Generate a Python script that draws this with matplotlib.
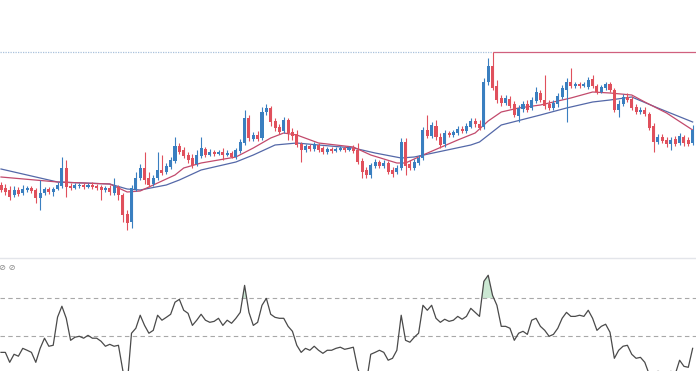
"""
Candlestick chart with two moving averages and an RSI pane below.
"""

import numpy as np
import matplotlib.pyplot as plt

COLORS = {
    'up': '#3a7fc0',
    'down': '#e0505c',
    'ma_fast': '#c24a6c',
    'ma_slow': '#5468a8',
    'high_dotted': '#a9c1dc',
    'high_line': '#d0607e',
    'rsi': '#4a4a4a',
    'level': '#a8a8a8',
    'ob_fill': '#bfe3c8',
    'sep': '#e3e5ea',
}

# ---------------------------------------------------------------------------
# Data
# ---------------------------------------------------------------------------
opens = [115, 112, 110, 105, 110, 107, 110, 112, 110, 102,
         107, 111, 108, 111, 114, 132, 114, 112, 114, 115,
         113, 115, 114, 113, 110, 112, 107, 113, 105, 86,
         78, 111, 122, 132, 122, 116, 122, 130, 128, 133,
         139, 154, 150, 145, 142, 136, 144, 151, 145, 148,
         146, 148, 145, 147, 143, 149, 157, 182, 161, 165,
         162, 188, 192, 179, 173, 169, 180, 168, 166, 156,
         150, 154, 151, 155, 152, 148, 151, 149, 150, 152,
         150, 152, 150, 139, 130, 125, 134, 138, 134, 137,
         130, 128, 132, 158, 136, 132, 137, 142, 170, 164,
         174, 163, 156, 167, 165, 167, 171, 169, 173, 179,
         176, 173, 218, 234, 214, 202, 197, 201, 196, 184,
         191, 196, 192, 199, 207, 200, 196, 192, 196, 203,
         210, 218, 214, 216, 214, 213, 221, 214, 208, 212,
         216, 210, 190, 196, 203, 201, 193, 188, 190, 186,
         174, 158, 163, 160, 156, 161, 157, 163, 160, 157]

closes = [110, 108, 103, 110, 106, 111, 112, 109, 102, 107,
          111, 108, 111, 115, 132, 113, 112, 115, 115, 113,
          115, 113, 112, 110, 112, 108, 114, 105, 85, 77,
          112, 122, 132, 120, 115, 122, 130, 127, 134, 140,
          154, 148, 144, 140, 135, 145, 152, 145, 148, 146,
          148, 145, 147, 143, 150, 158, 182, 162, 165, 161,
          188, 192, 178, 172, 168, 180, 167, 164, 155, 150,
          154, 151, 156, 150, 148, 151, 149, 151, 152, 150,
          152, 149, 138, 128, 125, 135, 138, 134, 137, 128,
          126, 132, 158, 134, 132, 138, 142, 170, 164, 175,
          163, 155, 167, 165, 168, 171, 169, 174, 179, 176,
          172, 218, 234, 212, 200, 197, 202, 194, 185, 192,
          196, 190, 200, 208, 200, 194, 192, 197, 204, 212,
          218, 214, 216, 214, 216, 220, 214, 208, 213, 216,
          210, 190, 196, 203, 200, 192, 188, 190, 186, 172,
          158, 163, 159, 156, 160, 156, 164, 157, 156, 170]

highs = [118, 116, 114, 114, 113, 115, 114, 114, 112, 120,
         113, 113, 113, 118, 143, 140, 117, 117, 117, 117,
         117, 118, 116, 115, 114, 115, 122, 115, 107, 90,
         115, 128, 136, 148, 128, 125, 148, 145, 137, 143,
         163, 157, 153, 148, 146, 150, 163, 153, 151, 150,
         150, 152, 150, 149, 152, 161, 190, 185, 168, 169,
         193, 196, 194, 182, 176, 183, 182, 172, 170, 158,
         156, 156, 158, 157, 154, 153, 153, 153, 154, 154,
         154, 155, 157, 142, 133, 137, 141, 140, 140, 139,
         133, 135, 162, 162, 140, 141, 145, 173, 185, 178,
         180, 167, 170, 169, 170, 174, 174, 177, 182, 182,
         180, 222, 242, 248, 220, 205, 205, 204, 199, 195,
         199, 200, 203, 213, 210, 225, 200, 200, 207, 215,
         222, 232, 218, 218, 218, 223, 225, 216, 215, 218,
         218, 212, 200, 206, 207, 204, 196, 193, 193, 188,
         177, 166, 166, 163, 163, 164, 167, 165, 163, 175]

lows = [108, 105, 100, 103, 104, 105, 108, 107, 97, 90,
        105, 106, 104, 110, 112, 103, 110, 111, 112, 111,
        112, 111, 110, 100, 108, 105, 105, 100, 78, 70,
        72, 109, 120, 116, 113, 114, 120, 125, 126, 131,
        137, 146, 142, 137, 132, 134, 142, 143, 144, 144,
        145, 140, 144, 142, 141, 147, 155, 159, 159, 159,
        160, 185, 174, 169, 166, 167, 160, 160, 153, 138,
        148, 149, 149, 148, 146, 146, 147, 148, 149, 148,
        149, 147, 136, 122, 122, 122, 132, 132, 132, 126,
        123, 126, 130, 125, 130, 130, 135, 140, 162, 162,
        160, 152, 153, 163, 163, 165, 167, 167, 172, 173,
        170, 171, 215, 210, 197, 194, 195, 192, 183, 178,
        188, 188, 190, 197, 198, 191, 190, 190, 193, 201,
        178, 212, 212, 212, 213, 211, 212, 206, 207, 210,
        208, 188, 183, 194, 198, 190, 186, 186, 184, 170,
        148, 156, 157, 153, 150, 154, 155, 154, 154, 155]

# moving averages, sampled at candle indices
ma_fast_idx = [0, 13, 25, 29, 32, 35, 40, 42, 46, 54, 58, 62, 65, 68, 73, 81,
               85, 91, 93, 97, 105, 109, 112, 115, 119, 124, 131, 136, 140,
               145, 148, 153, 159]
ma_fast = [123, 118, 116, 108, 109, 115, 125, 132, 137, 143, 152, 162, 167,
           165, 157, 153, 145, 137, 137, 145, 160, 167, 179, 188, 192, 195,
           202, 208, 207, 205, 198, 187, 170]

ma_slow_idx = [0, 13, 25, 29, 32, 38, 41, 46, 54, 58, 63, 68, 73, 81, 86, 92,
               95, 108, 110, 115, 124, 130, 136, 140, 145, 151, 159]
ma_slow = [131, 118, 116, 111, 110, 115, 120, 130, 138, 145, 155, 157, 155,
           152, 147, 142, 143, 155, 158, 175, 185, 192, 198, 200, 203, 192, 178]

rsi = [41.6, 41.6, 36.4, 40.6, 39.6, 43.7, 42.7, 41.6, 36.4, 43.7,
       49.0, 44.8, 45.3, 60.0, 65.7, 59.4, 47.9, 49.5, 50.0, 49.0,
       50.5, 49.0, 49.0, 47.4, 44.8, 45.8, 44.8, 45.3, 32.2, 24.4,
       51.6, 54.2, 61.0, 55.7, 51.6, 53.1, 61.0, 58.4, 59.9, 61.5,
       67.8, 69.3, 63.6, 62.0, 55.7, 58.4, 61.5, 58.4, 57.3, 57.8,
       59.4, 55.7, 58.4, 56.8, 59.4, 62.5, 76.6, 62.5, 55.7, 57.3,
       66.2, 69.8, 61.5, 59.9, 59.4, 59.4, 55.2, 52.6, 45.3, 41.6,
       43.7, 42.7, 44.8, 42.7, 41.1, 42.7, 42.7, 43.7, 44.3, 43.2,
       43.7, 44.3, 33.3, 27.0, 26.0, 40.6, 41.6, 42.7, 41.6, 37.5,
       38.5, 42.7, 61.0, 47.9, 46.9, 49.5, 51.6, 66.2, 63.6, 66.2,
       59.4, 57.3, 58.9, 57.8, 58.4, 60.4, 58.9, 60.4, 64.6, 62.5,
       60.4, 78.7, 81.9, 71.4, 66.2, 55.2, 55.2, 54.2, 47.9, 51.6,
       52.6, 51.0, 58.4, 59.4, 55.2, 53.1, 50.0, 51.0, 54.2, 59.4,
       62.5, 60.4, 60.4, 61.0, 60.4, 63.6, 59.4, 53.1, 55.2, 56.3,
       52.1, 38.5, 42.7, 44.8, 45.3, 40.6, 38.5, 39.0, 36.4, 30.2,
       24.9, 31.7, 31.2, 29.6, 31.7, 30.2, 37.5, 34.3, 33.8, 43.7]

rsi_levels = [70, 50]


def draw_candles(ax, o, h, l, c, width=0.7):
    o, h, l, c = map(np.asarray, (o, h, l, c))
    idx = np.arange(len(o))
    up = c >= o
    cols = np.where(up, COLORS['up'], COLORS['down'])
    ax.vlines(idx, l, h, colors=cols, linewidth=0.8, zorder=3)
    body = np.maximum(np.abs(c - o), 0.8)
    ax.bar(idx, body, bottom=np.minimum(o, c), width=width, color=cols,
           linewidth=0, zorder=4)


fig = plt.figure(figsize=(6.96, 3.71), dpi=100)
W, H = 696, 371
x_lo, x_hi = -1 / 4.35, 695 / 4.35

# ---------------------------------------------------------------------------
# Price pane
# ---------------------------------------------------------------------------
ax = fig.add_axes([0, 1 - 257 / H, 1, 257 / H])
draw_candles(ax, opens, highs, lows, closes)
ax.plot(ma_slow_idx, ma_slow, color=COLORS['ma_slow'], lw=0.9, zorder=2)
ax.plot(ma_fast_idx, ma_fast, color=COLORS['ma_fast'], lw=0.9, zorder=2)

peak = int(np.argmax(highs))
ax.hlines(highs[peak], x_lo, peak, colors=COLORS['high_dotted'],
          linestyles=(0, (1, 1)), lw=0.9)
ax.hlines(highs[peak], peak, x_hi, colors=COLORS['high_line'], lw=0.9)

ax.set_xlim(x_lo, x_hi)
ax.set_ylim(43, 300)
ax.axis('off')

# ---------------------------------------------------------------------------
# RSI pane (cut off at the bottom of the picture)
# ---------------------------------------------------------------------------
ax2 = fig.add_axes([0, 1 - 432 / H, 1, 174 / H])
xi = np.arange(len(rsi))
r = np.asarray(rsi)
ax2.plot(xi, r, color=COLORS['rsi'], lw=0.9, zorder=3)
ax2.fill_between(xi, 70, r, where=r > 70, interpolate=True,
                 color=COLORS['ob_fill'], alpha=0.8, lw=0, zorder=2)
for lv in rsi_levels:
    ax2.axhline(lv, color=COLORS['level'], lw=0.8, ls=(0, (4, 3)))

ax2.set_xlim(x_lo, x_hi)
ax2.set_ylim(0, 90.9)
for s in ['left', 'right', 'bottom']:
    ax2.spines[s].set_visible(False)
ax2.spines['top'].set_color(COLORS['sep'])
ax2.spines['top'].set_linewidth(1.0)
ax2.set_xticks([])
ax2.set_yticks([])

fig.text(-1 / W, 1 - 268 / H, '⊘ ⊘', fontsize=6, color='#888888',
         va='center', ha='left')

fig.savefig('out.png', dpi=100)
